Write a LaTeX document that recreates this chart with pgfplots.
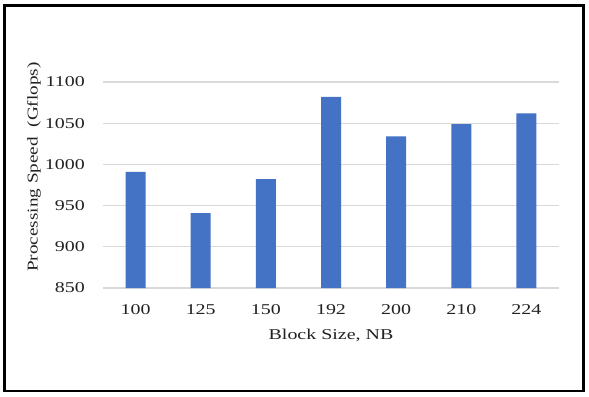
\documentclass[border=0pt]{standalone}
\usepackage{fontspec}
\setmainfont{Liberation Serif}
\newfontfamily\wide{Liberation Serif}[FakeStretch=1.33]
\newfontfamily\ywide{Liberation Serif}[FakeStretch=1.28]
\usepackage{pgfplots}
\pgfplotsset{compat=1.18}
\definecolor{barblue}{HTML}{4472C4}
\definecolor{gridgray}{HTML}{D9D9D9}
\definecolor{txt}{HTML}{222222}
\begin{document}
\begin{tikzpicture}[x=1bp,y=1bp]
\useasboundingbox (0,0) rectangle (589,396);
\fill[white] (0,0) rectangle (589,396);
\draw[line width=2.5bp] (4.5,5) rectangle (583.5,390.5);
\begin{axis}[at={(103bp,108bp)}, anchor=south west, scale only axis,
  width=456bp, height=206bp,
  xmin=-0.5, xmax=6.5, ymin=850, ymax=1100,
  ytick={850,900,...,1100},
  xtick={0,...,6}, xticklabels={100,125,150,192,200,210,224},
  ybar, bar width=20bp,
  axis line style={draw=none}, major tick length=0pt,
  ymajorgrids, grid style={gridgray, line width=1.2bp},
  tick label style={font=\fontsize{15bp}{18bp}\wide, text=txt},
  /pgf/number format/assume math mode=true,
  /pgf/number format/1000 sep={},
  yticklabel style={anchor=east, inner sep=0pt, xshift=-18bp},
  xticklabel style={anchor=north, inner sep=0pt, yshift=-16bp},
  xlabel={Block Size, NB},
  xlabel style={at={(axis description cs:0.5,-0.2524)}, anchor=base, inner sep=0pt,
    font=\fontsize{15bp}{18bp}\wide, text=txt},
  ylabel={Processing Speed\ \ (Gflops)},
  ylabel style={at={(axis description cs:-0.1432,0.587)}, anchor=base, inner sep=0pt,
    font=\fontsize{15bp}{18bp}\ywide, text=txt},
]
\addplot[fill=barblue, draw=none] coordinates {(0,991) (1,941) (2,982) (3,1082) (4,1034) (5,1049) (6,1062)};
\end{axis}
\end{tikzpicture}
\end{document}
